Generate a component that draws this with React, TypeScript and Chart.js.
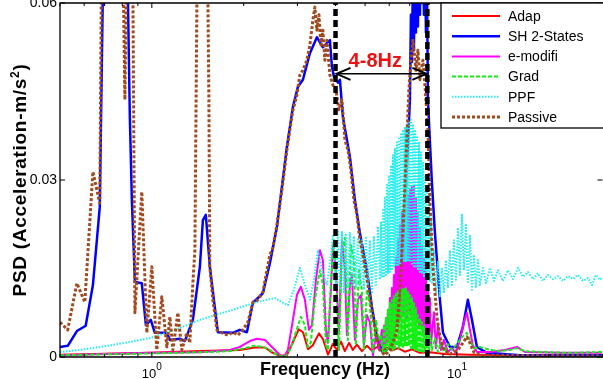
import React, { useEffect, useRef } from 'react';
import { Chart, registerables } from 'chart.js';
Chart.register(...registerables);

const FONT = '"Liberation Sans", Arial, Helvetica, sans-serif';

// ---------- data (Hz, PSD) ----------
const adapFreq = [0.5, 0.985, 1.437, 1.943, 2.177, 2.35, 2.47, 2.63, 2.77, 2.9, 3.03, 3.13, 3.25, 3.37, 3.53, 3.64, 3.78, 3.92, 4.04, 4.17, 4.29, 4.43, 4.56, 4.7, 4.88, 5.07, 5.26, 5.47, 5.68, 5.9, 6.12, 6.41, 6.75, 7.12, 7.56, 8.16, 9.13, 11.03, 16.1, 30];
const adapPsd = [0.0004, 0.0007, 0.001, 0.0012, 0.0016, 0.0016, 0.0008, 0.0002, 0.0003, 0.0025, 0.0047, 0.0042, 0.0013, 0.002, 0.004, 0.003, 0.0004, 0.0022, 0.0012, 0.0026, 0.001, 0.0024, 0.0012, 0.0021, 0.001, 0.0019, 0.0011, 0.0017, 0.001, 0.0016, 0.0011, 0.0015, 0.0009, 0.0013, 0.0007, 0.0008, 0.0005, 0.0004, 0.0003, 0.0003];

const shFreq = [0.5, 0.53, 0.568, 0.607, 0.641, 0.675, 0.691, 0.707, 0.756, 0.81, 0.834, 0.847, 0.86, 0.88, 0.927, 0.956, 0.992, 1.023, 1.12, 1.146, 1.235, 1.283, 1.363, 1.437, 1.47, 1.503, 1.549, 1.646, 1.843, 1.943, 2.049, 2.144, 2.312, 2.437, 2.57, 2.771, 2.9, 3.011, 3.127, 3.297, 3.475, 3.636, 3.777, 3.834, 3.893, 3.952, 4.073, 4.135, 4.229, 4.459, 4.63, 4.808, 5.069, 5.264, 5.467, 5.72, 6.03, 6.358, 6.602, 6.855,
  7.013, 7.066, 7.12, 7.173, 7.228, 7.283, 7.338, 7.393, 7.45, 7.506, 7.563, 7.62, 7.678, 7.736, 7.795, 7.854, 7.914, 7.973, 8.034,
  8.28, 8.47, 8.795, 9.0, 9.485, 10.0, 10.46, 10.86, 11.2, 11.63, 12.54, 16.1, 30];
const shPsd = [0.0017, 0.0019, 0.0044, 0.0053, 0.0122, 0.0254, 0.062, 0.09, 0.12, 0.09, 0.062, 0.0407, 0.0266, 0.0127, 0.0125, 0.0054, 0.0063, 0.0041, 0.0041, 0.0029, 0.0031, 0.0027, 0.0063, 0.0153, 0.0232, 0.0241, 0.0153, 0.0042, 0.0041, 0.0046, 0.0042, 0.0092, 0.0108, 0.0159, 0.022, 0.0356, 0.0424, 0.0458, 0.047, 0.0515, 0.0542, 0.0525, 0.0534, 0.0537, 0.0492, 0.0475, 0.0465, 0.047, 0.0407, 0.0339, 0.0266, 0.021, 0.0147, 0.0085, 0.0034, 0.0007, 0.0017, 0.0068, 0.0153, 0.0322,
  0.0436, 0.058, 0.05, 0.065, 0.052, 0.068, 0.055, 0.07, 0.056, 0.07, 0.058, 0.07, 0.06, 0.072, 0.058, 0.07, 0.055, 0.065, 0.0436,
  0.0295, 0.021, 0.0097, 0.0041, 0.0017, 0.0017, 0.0051, 0.0097, 0.0063, 0.0017, 0.0007, 0.0003, 0.0003];

const emodFreq = [0.5, 0.985, 1.437, 1.802, 1.943, 2.096, 2.21, 2.347, 2.475, 2.609, 2.709, 2.792, 2.9, 2.988, 3.08, 3.175, 3.272, 3.347, 3.45, 3.555, 3.636, 3.72, 3.777, 3.863, 3.922, 4.012, 4.104, 4.198, 4.294, 4.359, 4.459, 4.527, 4.631, 4.737, 4.845, 4.956, 5.069, 5.185, 5.304, 5.426, 5.55,
  5.677, 5.72, 5.764, 5.807, 5.851, 5.895, 5.94, 5.985, 6.03, 6.076,
  6.122, 6.168, 6.215, 6.262, 6.31, 6.358, 6.406, 6.454, 6.503, 6.552,
  6.602, 6.652, 6.703, 6.753, 6.805, 6.856, 6.908, 6.96, 7.013, 7.066,
  7.12, 7.173, 7.228, 7.283, 7.338, 7.393, 7.45, 7.506, 7.563, 7.62,
  7.678, 7.736, 7.795, 7.854, 7.914, 7.973, 8.034, 8.095, 8.156, 8.218,
  8.406, 8.534, 8.664, 8.862, 9.065, 9.343, 9.629, 9.925, 10.23, 10.54, 10.78, 11.03, 11.28, 11.63, 12.83, 14.37, 15.73, 16.71, 21.77, 30];
const emodPsd = [0.0003, 0.0007, 0.0008, 0.0012, 0.0017, 0.0027, 0.0031, 0.0029, 0.0017, 0.0005, 0.0, 0.0012, 0.0063, 0.0105, 0.0119, 0.0097, 0.0046, 0.0054, 0.0131, 0.0181, 0.0164, 0.0046, 0.0024, 0.0114, 0.019, 0.0147, 0.0041, 0.0198, 0.0147, 0.0037, 0.0122, 0.0139, 0.0029, 0.0097, 0.0105, 0.002, 0.0071, 0.0059, 0.0003, 0.0037, 0.0012,
  0.0046, 0.0015, 0.0053, 0.002, 0.0066, 0.0025, 0.008, 0.0029, 0.01, 0.0032,
  0.0117, 0.0042, 0.0139, 0.0046, 0.0168, 0.0054, 0.0198, 0.0059, 0.0224, 0.0066,
  0.0246, 0.0071, 0.0258, 0.0076, 0.0266, 0.0066, 0.0275, 0.0076, 0.0283, 0.0071,
  0.0288, 0.0066, 0.029, 0.0063, 0.027, 0.0059, 0.0246, 0.0054, 0.0219, 0.0049,
  0.019, 0.0042, 0.0168, 0.0036, 0.0147, 0.0029, 0.0122, 0.0024, 0.01, 0.002,
  0.0076, 0.0015, 0.0054, 0.0012, 0.0029, 0.00085, 0.0015, 0.0007, 0.0029, 0.0059, 0.0075, 0.0046, 0.002, 0.00085, 0.00085, 0.0012, 0.0017, 0.00085, 0.0007, 0.0007];

const gradFreq = [0.5, 0.985, 1.437, 1.802, 2.018, 2.177, 2.312, 2.437, 2.589, 2.729, 2.835, 2.944, 3.08, 3.175, 3.248, 3.322, 3.423, 3.555, 3.636, 3.72, 3.777, 3.863, 3.952, 4.042, 4.104, 4.198, 4.294, 4.393, 4.493, 4.596, 4.666, 4.773, 4.882, 4.956, 5.069, 5.185, 5.304, 5.426, 5.55, 5.634,
  5.72, 5.764, 5.807, 5.851, 5.895, 5.94, 5.985, 6.03, 6.076, 6.122,
  6.168, 6.215, 6.262, 6.31, 6.358, 6.406, 6.454, 6.503, 6.552, 6.602,
  6.652, 6.703, 6.753, 6.805, 6.856, 6.908, 6.96, 7.013, 7.066, 7.12,
  7.173, 7.228, 7.283, 7.338, 7.393, 7.45, 7.506, 7.563, 7.62, 7.678,
  7.736, 7.795, 7.854, 7.914, 7.973, 8.034, 8.095, 8.156,
  8.28, 8.47, 8.664, 8.862, 9.065, 9.343, 9.629, 9.925, 10.23, 10.54, 10.78, 11.03, 11.37, 11.89, 12.83, 13.83, 14.92, 15.73, 16.71, 18.7, 23.47, 30];
const gradPsd = [0.0003, 0.0006, 0.0008, 0.001, 0.0015, 0.0019, 0.0017, 0.0012, 0.0003, 0.0, 0.0012, 0.0037, 0.0068, 0.0054, 0.0017, 0.0025, 0.0097, 0.0147, 0.0122, 0.002, 0.0012, 0.013, 0.0198, 0.0097, 0.0012, 0.0181, 0.0202, 0.0029, 0.019, 0.0164, 0.002, 0.0147, 0.0114, 0.0012, 0.0114, 0.0088, 0.0008, 0.0063, 0.0029, 0.0037,
  0.0005, 0.0054, 0.00085, 0.0066, 0.0012, 0.008, 0.0012, 0.0092, 0.0015, 0.0097,
  0.0012, 0.0103, 0.0015, 0.0107, 0.0019, 0.0112, 0.0015, 0.0114, 0.0019, 0.0115,
  0.0015, 0.0117, 0.002, 0.0117, 0.0017, 0.011, 0.0019, 0.0105, 0.0015, 0.01,
  0.0015, 0.0093, 0.0012, 0.0083, 0.0012, 0.0071, 0.001, 0.0066, 0.001, 0.0059,
  0.00085, 0.0053, 0.00085, 0.0046, 0.00085, 0.0042, 0.00085, 0.0041,
  0.0012, 0.0032, 0.00085, 0.0025, 0.00085, 0.0022, 0.0012, 0.002, 0.0029, 0.0037, 0.0041, 0.0029, 0.0015, 0.0017, 0.0012, 0.001, 0.0012, 0.0015, 0.001, 0.00085, 0.0007, 0.00085];

const ppfFreq = [0.5, 0.581, 0.675, 0.816, 0.985, 1.19, 1.437, 1.843, 2.177, 2.383, 2.531, 2.689, 2.792, 2.922, 3.057, 3.175, 3.297, 3.398, 3.502, 3.609, 3.748, 3.863, 3.922, 4.012, 4.073, 4.135, 4.198, 4.262, 4.327, 4.393, 4.459, 4.527, 4.596, 4.666, 4.737, 4.808, 4.882, 4.956, 5.031, 5.108, 5.185, 5.264, 5.344, 5.426, 5.508,
  5.592, 5.634, 5.677, 5.72, 5.764, 5.807, 5.851, 5.895, 5.94, 5.985,
  6.03, 6.076, 6.122, 6.168, 6.215, 6.262, 6.31, 6.358, 6.406, 6.454,
  6.503, 6.552, 6.602, 6.652, 6.703, 6.753, 6.805, 6.856, 6.908, 6.96,
  7.013, 7.066, 7.12, 7.173, 7.228, 7.283, 7.338, 7.393, 7.45, 7.506,
  7.563, 7.62, 7.678, 7.736, 7.795, 7.854, 7.914, 7.973, 8.034, 8.095,
  8.156, 8.218, 8.28,
  8.406, 8.534, 8.664, 8.795, 8.929, 9.065, 9.203, 9.343, 9.485, 9.629, 9.776, 9.925, 10.08, 10.23, 10.38, 10.54, 10.7, 10.86, 11.03, 11.2, 11.37, 11.54, 11.72, 11.89, 12.17, 12.45, 12.83, 13.22, 13.63, 14.15, 14.7, 15.26, 15.85, 16.46, 17.09, 17.75, 18.43, 19.14, 19.88, 20.64, 21.43, 22.26, 23.12, 24.0, 24.93, 25.89, 26.89, 27.71, 28.56, 29.4, 30];
const ppfPsd = [0.00085, 0.0012, 0.0017, 0.0024, 0.0032, 0.0046, 0.0063, 0.008, 0.0092, 0.0097, 0.01, 0.0092, 0.0088, 0.0114, 0.0151, 0.0122, 0.0097, 0.0131, 0.0181, 0.0147, 0.0122, 0.0173, 0.0207, 0.0117, 0.0215, 0.0114, 0.0212, 0.011, 0.0207, 0.0117, 0.0212, 0.0122, 0.0205, 0.0117, 0.0202, 0.0122, 0.0198, 0.0114, 0.0202, 0.0117, 0.0198, 0.011, 0.0205, 0.0122, 0.0219,
  0.0131, 0.0229, 0.0134, 0.0249, 0.0137, 0.027, 0.0139, 0.0292, 0.0141, 0.0308,
  0.0144, 0.0325, 0.0147, 0.0342, 0.0151, 0.0354, 0.0154, 0.0364, 0.0156, 0.0373,
  0.0158, 0.038, 0.0161, 0.0385, 0.0161, 0.039, 0.0161, 0.0395, 0.0164, 0.04,
  0.0161, 0.0402, 0.0158, 0.0395, 0.0154, 0.0385, 0.0151, 0.0375, 0.0147, 0.0363,
  0.0144, 0.0347, 0.0141, 0.0331, 0.0137, 0.0308, 0.0134, 0.0283, 0.0131, 0.0258,
  0.0127, 0.0232, 0.0124,
  0.0181, 0.011, 0.0161, 0.0103, 0.0151, 0.011, 0.0164, 0.0117, 0.0181, 0.0122, 0.0198, 0.0131, 0.0219, 0.0139, 0.0241, 0.0147, 0.0224, 0.0127, 0.0207, 0.0114, 0.0173, 0.0117, 0.0164, 0.0122, 0.0151, 0.0125, 0.0151, 0.0129, 0.0147, 0.0129, 0.0147, 0.0132, 0.0151, 0.0136, 0.0144, 0.0132, 0.0142, 0.0129, 0.0139, 0.0132, 0.0137, 0.0129, 0.0137, 0.0132, 0.0139, 0.0129, 0.0134, 0.0122, 0.0139, 0.0131, 0.0134];

const passiveFreq = [0.5, 0.53, 0.568, 0.603, 0.641, 0.675, 0.685, 0.728, 0.785, 0.803, 0.816, 0.828, 0.853, 0.866, 0.88, 0.927, 0.963, 1.0, 1.038, 1.078, 1.12, 1.146, 1.172, 1.217, 1.254, 1.302, 1.332, 1.363, 1.384, 1.415, 1.47, 1.514, 1.538, 1.549, 1.585, 1.634, 1.696, 1.775, 1.843, 1.914, 1.988, 2.064, 2.144, 2.226, 2.312, 2.383, 2.437, 2.493, 2.57, 2.669, 2.771, 2.835, 2.9, 2.988, 3.057, 3.127, 3.223, 3.297, 3.372, 3.423, 3.475, 3.53, 3.582, 3.636, 3.691, 3.748, 3.834, 3.922, 4.012, 4.104, 4.198, 4.294, 4.393, 4.493, 4.596, 4.701, 4.808, 4.956, 5.108, 5.264, 5.426, 5.592, 5.807, 6.03, 6.215, 6.358, 6.503, 6.652, 6.805, 6.96, 7.066, 7.173, 7.338, 7.45, 7.563, 7.736, 7.854, 8.034, 8.156, 8.343, 8.6, 8.795, 9.065, 9.485, 10.08, 10.46, 10.78, 11.03, 11.37, 11.89, 30];
const passivePsd = [0.0059, 0.0046, 0.0125, 0.0093, 0.0314, 0.0261, 0.07, 0.13, 0.1, 0.07, 0.0436, 0.07, 0.08, 0.065, 0.0075, 0.028, 0.0041, 0.0153, 0.0012, 0.0102, 0.0017, 0.0068, 0.0012, 0.0075, 0.0012, 0.0041, 0.0024, 0.0125, 0.0181, 0.08, 0.14, 0.08, 0.0436, 0.0153, 0.0097, 0.0046, 0.0041, 0.0037, 0.0042, 0.0037, 0.0046, 0.0059, 0.0093, 0.0097, 0.011, 0.0147, 0.0173, 0.0185, 0.0224, 0.0283, 0.0351, 0.0385, 0.0419, 0.0444, 0.0478, 0.0486, 0.0503, 0.0529, 0.0571, 0.0593, 0.0554, 0.058, 0.0529, 0.0554, 0.0503, 0.0537, 0.0478, 0.0461, 0.0453, 0.0419, 0.0436, 0.0368, 0.0351, 0.0317, 0.0266, 0.0241, 0.0198, 0.0164, 0.0122, 0.008, 0.0037, 0.0012, 0.0003, 0.0012, 0.0029, 0.0046, 0.0114, 0.021, 0.0334, 0.0453, 0.0503, 0.0537, 0.0486, 0.052, 0.047, 0.0503, 0.0461, 0.0385, 0.0266, 0.0153, 0.0068, 0.0034, 0.0012, 0.0005, 0.0012, 0.0024, 0.0034, 0.0024, 0.0008, 0.0003, 0.0002];

const seriesNames = ['Adap', 'SH 2-States', 'e-modifi', 'Grad', 'PPF', 'Passive'];
const yTicks = [0, 0.03, 0.06];
const xTickLabels = [{ v: 1, base: '10', exp: '0' }, { v: 10, base: '10', exp: '1' }];
const bandLimits = [4, 8];
const bandLabel = '4-8Hz';
const arrowLevel = 0.048;
const labelPos = { x: 5.4, y: 0.0503 };

const styles = [
  { color: '#ff0000', width: 2, dash: [] as number[] },
  { color: '#0000ff', width: 2.5, dash: [] as number[] },
  { color: '#ff00ff', width: 2, dash: [] as number[] },
  { color: '#11ee11', width: 2, dash: [4, 2] },
  { color: '#22eeee', width: 2, dash: [1.5, 1.5] },
  { color: '#a04a1e', width: 3, dash: [3, 2] },
];

function pts(f: number[], v: number[]) {
  return f.map((x, i) => ({ x, y: v[i] }));
}

const seriesData = [
  pts(adapFreq, adapPsd),
  pts(shFreq, shPsd),
  pts(emodFreq, emodPsd),
  pts(gradFreq, gradPsd),
  pts(ppfFreq, ppfPsd),
  pts(passiveFreq, passivePsd),
];
const drawOrder = [6, 5, 4, 3, 2, 1];

const overlay = {
  id: 'overlay',
  afterDraw(chart: any) {
    const { ctx, chartArea: a } = chart;
    const xs = chart.scales.x;
    const ys = chart.scales.y;
    ctx.save();
    ctx.setLineDash([]);
    ctx.strokeStyle = '#000';
    ctx.lineWidth = 1.3;
    const line = (x1: number, y1: number, x2: number, y2: number) => {
      ctx.beginPath();
      ctx.moveTo(x1, y1);
      ctx.lineTo(x2, y2);
      ctx.stroke();
    };
    // axes box (left, top, bottom)
    ctx.beginPath();
    ctx.moveTo(a.right + 2, a.top);
    ctx.lineTo(a.left, a.top);
    ctx.lineTo(a.left, a.bottom);
    ctx.lineTo(a.right + 2, a.bottom);
    ctx.stroke();
    ctx.lineWidth = 1;
    for (const d of [0.1, 1, 10]) {
      for (let k = 1; k <= 9; k++) {
        const v = k * d;
        if (v < 0.5 - 1e-9 || v > 30 + 1e-9) continue;
        const px = xs.getPixelForValue(v);
        const len = k === 1 ? 5 : 3;
        line(px, a.bottom, px, a.bottom - len);
        line(px, a.top, px, a.top + len);
      }
    }
    for (const v of yTicks) {
      const py = ys.getPixelForValue(v);
      line(a.left, py, a.left + 5, py);
      line(a.right, py, a.right - 5, py);
    }
    // x tick labels with superscript
    ctx.fillStyle = '#000';
    ctx.textBaseline = 'alphabetic';
    ctx.textAlign = 'left';
    for (const t of xTickLabels) {
      const px = xs.getPixelForValue(t.v);
      ctx.font = `13px ${FONT}`;
      const wb = ctx.measureText(t.base).width;
      ctx.font = `10px ${FONT}`;
      const we = ctx.measureText(t.exp).width;
      const x0 = px - (wb + we) / 2;
      ctx.font = `13px ${FONT}`;
      ctx.fillText(t.base, x0, 378);
      ctx.font = `10px ${FONT}`;
      ctx.fillText(t.exp, x0 + wb, 370);
    }
    // x title
    ctx.font = `bold 18px ${FONT}`;
    ctx.textAlign = 'center';
    ctx.fillText('Frequency (Hz)', 325, 375);
    // y title
    ctx.save();
    ctx.translate(26, 180);
    ctx.rotate(-Math.PI / 2);
    ctx.textAlign = 'left';
    (ctx as any).letterSpacing = '0.7px';
    ctx.font = `bold 19px ${FONT}`;
    const p1 = 'PSD (Acceleration-m/s';
    const p3 = ')';
    const w1 = ctx.measureText(p1).width;
    const w3 = ctx.measureText(p3).width;
    ctx.font = `bold 12px ${FONT}`;
    const w2 = ctx.measureText('2').width;
    const total = w1 + w2 + w3;
    const sx = -total / 2;
    ctx.font = `bold 19px ${FONT}`;
    ctx.fillText(p1, sx, 0);
    ctx.fillText(p3, sx + w1 + w2, 0);
    ctx.font = `bold 12px ${FONT}`;
    ctx.fillText('2', sx + w1, -7);
    ctx.restore();

    // double arrow between band limits
    const xl = xs.getPixelForValue(bandLimits[0]);
    const xr = xs.getPixelForValue(bandLimits[1]);
    const ya = ys.getPixelForValue(arrowLevel);
    ctx.strokeStyle = '#000';
    ctx.lineWidth = 1.5;
    line(xl + 1, ya, xr - 1, ya);
    ctx.lineWidth = 2;
    ctx.beginPath();
    ctx.moveTo(xl + 15, ya - 6);
    ctx.lineTo(xl + 1, ya);
    ctx.lineTo(xl + 15, ya + 6);
    ctx.stroke();
    ctx.beginPath();
    ctx.moveTo(xr - 15, ya - 6);
    ctx.lineTo(xr - 1, ya);
    ctx.lineTo(xr - 15, ya + 6);
    ctx.stroke();
    // band label
    ctx.fillStyle = '#ee1111';
    ctx.font = `bold 20px ${FONT}`;
    ctx.textAlign = 'center';
    ctx.textBaseline = 'alphabetic';
    ctx.fillText(bandLabel, xs.getPixelForValue(labelPos.x), ys.getPixelForValue(labelPos.y) + 7);

    // legend
    const lx = 441, ly = 3, lw = 170, lh = 125;
    ctx.fillStyle = '#fff';
    ctx.fillRect(lx, ly, lw, lh);
    ctx.strokeStyle = '#000';
    ctx.lineWidth = 1.3;
    ctx.strokeRect(lx, ly, lw, lh);
    ctx.font = `14px ${FONT}`;
    ctx.textAlign = 'left';
    ctx.textBaseline = 'middle';
    seriesNames.forEach((name, i) => {
      const yy = 16 + i * 20.2;
      const s = styles[i];
      ctx.strokeStyle = s.color;
      ctx.lineWidth = s.width;
      ctx.setLineDash(s.dash);
      line(452, yy, 500, yy);
      ctx.setLineDash([]);
      ctx.fillStyle = '#000';
      ctx.fillText(name, 508, yy + 1);
    });
    ctx.restore();
  },
};

export default function App() {
  const ref = useRef<HTMLCanvasElement>(null);
  useEffect(() => {
    document.body.style.margin = '0';
    const datasets: any[] = seriesData.map((d, i) => ({
      label: seriesNames[i],
      data: d,
      borderColor: styles[i].color,
      borderWidth: styles[i].width,
      borderDash: styles[i].dash,
      borderJoinStyle: 'round',
      pointRadius: 0,
      tension: 0,
      fill: false,
      order: drawOrder[i],
      clip: 0,
    }));
    bandLimits.forEach((f) => {
      datasets.push({
        label: 'band' + f,
        data: [{ x: f, y: 0 }, { x: f, y: 0.06 }],
        borderColor: '#000',
        borderWidth: 4.5,
        borderDash: [7, 4],
        pointRadius: 0,
        order: 0,
        clip: 0,
      });
    });
    const chart = new Chart(ref.current as HTMLCanvasElement, {
      type: 'line',
      data: { datasets },
      options: {
        animation: false,
        responsive: false,
        maintainAspectRatio: false,
        layout: { padding: { top: 3, right: 0.5, left: 0, bottom: 0 } },
        plugins: { legend: { display: false }, tooltip: { enabled: false } },
        scales: {
          x: {
            type: 'logarithmic',
            min: 0.5,
            max: 30,
            grid: { display: false, drawTicks: false },
            border: { display: false },
            ticks: { display: false },
            afterFit: (s: any) => {
              s.height = 22;
              s.paddingLeft = 0; s.paddingRight = 0; s.paddingTop = 0; s.paddingBottom = 0;
            },
          },
          y: {
            type: 'linear',
            min: 0,
            max: 0.06,
            grid: { display: false, drawTicks: false },
            border: { display: false },
            afterBuildTicks: (s: any) => { s.ticks = yTicks.map((v) => ({ value: v })); },
            ticks: {
              padding: 3,
              color: '#000',
              font: { family: FONT, size: 14 },
              callback: (v: any) => (Number(v) === 0 ? '0' : Number(v).toFixed(2)),
            },
            afterFit: (s: any) => {
              s.width = 60;
              s.paddingLeft = 0; s.paddingRight = 0; s.paddingTop = 0; s.paddingBottom = 0;
            },
          },
        },
      } as any,
      plugins: [overlay],
    });
    return () => chart.destroy();
  }, []);
  return (
    <div style={{ width: 603, height: 379 }}>
      <canvas ref={ref} width={603} height={379} style={{ display: 'block' }} />
    </div>
  );
}
